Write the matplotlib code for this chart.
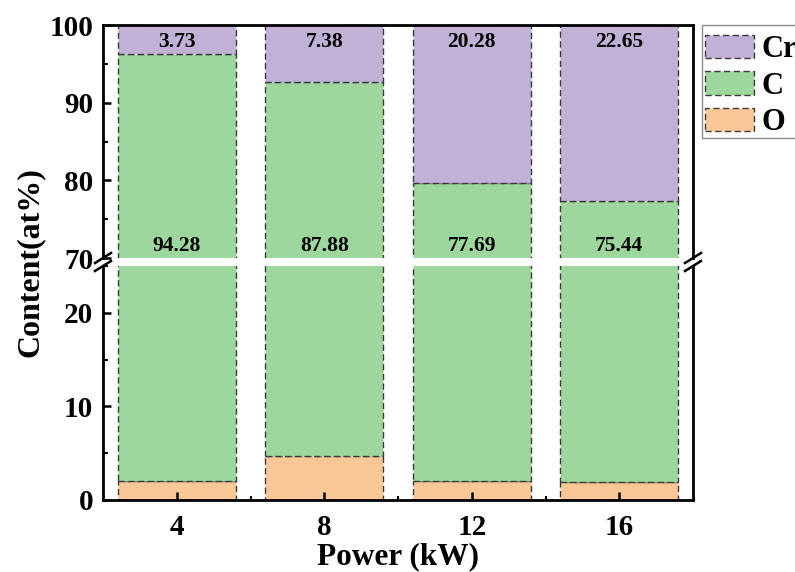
import matplotlib
matplotlib.use('Agg')
import matplotlib.pyplot as plt
from matplotlib.patches import Patch, Rectangle
from matplotlib.lines import Line2D
import numpy as np

plt.rcParams['font.family'] = ['Liberation Serif', 'DejaVu Serif']
plt.rcParams['font.weight'] = 'bold'

power = ['4', '8', '12', '16']
cr = [3.73, 7.38, 20.28, 22.65]
c = [94.28, 87.88, 77.69, 75.44]
o = [1.99, 4.74, 2.03, 1.91]

col_cr = '#c1b1d7'
col_c = '#9dd79d'
col_o = '#fac896'
edge = '#3a3a3a'
dash = (0, (4.5, 2.5))

fig = plt.figure(figsize=(7.95, 5.72), dpi=100)
W, H = 795, 572
left, right = 103 / W, 693 / W
ax_top = fig.add_axes([left, 1 - 258 / H, right - left, (258 - 25) / H])
ax_bot = fig.add_axes([left, 1 - 500 / H, right - left, (500 - 266) / H])

x = np.arange(len(power))
o_arr = np.array(o)
c_arr = np.array(c)
cr_arr = np.array(cr)

for ax in (ax_top, ax_bot):
    ax.bar(x, o_arr, 0.8, color=col_o, edgecolor=edge, linestyle=dash, linewidth=1)
    ax.bar(x, c_arr, 0.8, bottom=o_arr, color=col_c, edgecolor=edge, linestyle=dash, linewidth=1)
    ax.bar(x, cr_arr, 0.8, bottom=o_arr + c_arr, color=col_cr, edgecolor=edge, linestyle=dash, linewidth=1)
    ax.set_xlim(-0.5, 3.5)
    for s in ax.spines.values():
        s.set_linewidth(2)
    ax.tick_params(axis='y', which='major', direction='in', length=6, width=1.8, labelsize=21, pad=7, right=False)
    ax.tick_params(axis='y', which='minor', direction='in', length=3.5, width=1.5, right=False)

ax_top.set_ylim(70, 100)
ax_top.set_yticks([70, 80, 90, 100])
ax_top.set_yticks([75, 85, 95], minor=True)
ax_top.spines['bottom'].set_visible(False)
ax_top.tick_params(axis='x', which='both', bottom=False, top=False, labelbottom=False)

ax_bot.set_ylim(0, 25)
ax_bot.set_yticks([0, 10, 20])
ax_bot.set_yticks([5, 15, 25], minor=True)
ax_bot.spines['top'].set_visible(False)
ax_bot.set_xticks(x)
ax_bot.set_xticklabels(power)
ax_bot.set_xticks(x[:-1] + 0.5, minor=True)
ax_bot.tick_params(axis='x', which='major', direction='in', length=6, width=1.8, labelsize=21, pad=10, top=False)
ax_bot.tick_params(axis='x', which='minor', direction='in', length=3, width=1.5, top=False)

# value labels
for i in range(len(power)):
    ax_top.text(x[i], 97.8, f'{cr[i]:.2f}', ha='center', va='center', fontsize=15.5, fontweight='bold')
    ax_top.text(x[i], 71.5, f'{c[i]:.2f}', ha='center', va='center', fontsize=15.5, fontweight='bold')

# break marks on both spines
for xp in (103, 693):
    for yp in (258, 266):
        fig.add_artist(Line2D([(xp - 8) / W, (xp + 8) / W], [1 - (yp + 5) / H, 1 - (yp - 5) / H],
                              color='black', linewidth=1.8))

ax_bot.set_xlabel('Power (kW)', fontsize=22.5, fontweight='bold', labelpad=1)
fig.text(30 / W, 1 - 262 / H, 'Content(at%)', rotation=90, ha='center', va='center',
         fontsize=23, fontweight='bold')

handles = [Patch(facecolor=col_cr, edgecolor=edge, linestyle=dash, linewidth=1, label='Cr'),
           Patch(facecolor=col_c, edgecolor=edge, linestyle=dash, linewidth=1, label='C'),
           Patch(facecolor=col_o, edgecolor=edge, linestyle=dash, linewidth=1, label='O')]
leg = fig.legend(handles=handles, loc='upper left', bbox_to_anchor=(705 / W, 1 - 35 / H),
                 fontsize=22, frameon=False,
                 handlelength=1.6, handleheight=0.8, labelspacing=0.23, handletextpad=0.25,
                 borderpad=0, borderaxespad=0)
fig.add_artist(Rectangle((702 / W, 1 - 138 / H), 110 / W, 113 / H, transform=fig.transFigure,
                         facecolor='none', edgecolor='#8a8a8a', linewidth=1))

fig.savefig('out.png', dpi=100)
